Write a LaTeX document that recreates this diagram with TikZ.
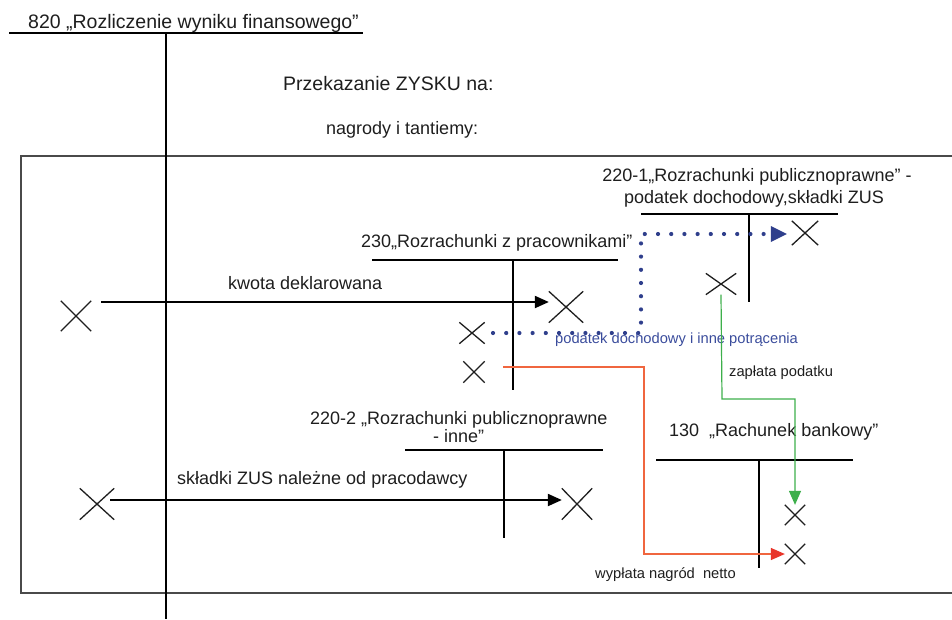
\documentclass[tikz,border=0pt]{standalone}
\usepackage{fontspec}
\setmainfont{Liberation Sans}
\usetikzlibrary{arrows.meta,shapes.misc,calc}
\definecolor{dotblue}{HTML}{2F3F8C}
\definecolor{txtblue}{HTML}{3A4C9C}
\definecolor{grn}{HTML}{3DAF4B}
\definecolor{redline}{HTML}{F0663F}
\definecolor{redhead}{HTML}{E8352A}
\definecolor{boxgray}{HTML}{4A4A4A}
\definecolor{ink}{HTML}{1E1E1E}
\begin{document}
\begin{tikzpicture}[x=1pt,y=-1pt,
  acct/.style={line width=2pt, draw=black},
  xmark/.style={cross out, draw=ink, inner sep=0pt, line width=1.3pt},
  bigtxt/.style={inner sep=0pt, font=\fontsize{19.5}{23}\selectfont, text=ink},
  lbl/.style={inner sep=0pt, font=\fontsize{18}{22}\selectfont, text=ink},
  small/.style={inner sep=0pt, font=\fontsize{14.7}{18}\selectfont, text=ink},
  blk/.style={line width=2pt, draw=black, -{Triangle[length=14pt,width=12pt]}}
]
\useasboundingbox (0,0) rectangle (952,619);
% frame
\draw[boxgray, line width=1.2pt] (952,156) -- (21,156) -- (21,593) -- (952,593);
% 820 account
\coordinate (t820l) at (9,33);
\coordinate (t820r) at (363,33);
\coordinate (t820m) at (165.5,33);
\coordinate (t820b) at (165.5,619);
\draw[acct] (t820l) -- (t820r);
\draw[acct] (t820m) -- (t820b);
\node[bigtxt, anchor=base west] (title) at (28,28) {820 „Rozliczenie wyniku finansowego”};
\node[bigtxt, anchor=base west] (przek) at (283,90) {Przekazanie ZYSKU na:};
\node[lbl, anchor=base west] (nagr) at (326,134) {nagrody i tantiemy:};

% 230 account
\coordinate (t230l) at (372,260);
\coordinate (t230r) at (618,260);
\coordinate (t230m) at (513,260);
\coordinate (t230b) at (513,390);
\draw[acct] (t230l) -- (t230r);
\draw[acct, line width=1.8pt] (t230m) -- (t230b);
\node[lbl, anchor=base west] (n230) at (361,247) {230„Rozrachunki z pracownikami”};

% 220-1 account
\coordinate (t2201l) at (641,214);
\coordinate (t2201r) at (838,214);
\coordinate (t2201m) at (749,214);
\coordinate (t2201b) at (749,302);
\draw[acct] (t2201l) -- (t2201r);
\draw[acct, line width=1.8pt] (t2201m) -- (t2201b);
\node[lbl, anchor=base] (n2201a) at (757,181) {220-1„Rozrachunki publicznoprawne” -};
\node[lbl, anchor=base] (n2201b) at (754,203) {podatek dochodowy,składki ZUS};

% 220-2 account
\coordinate (t2202l) at (405,450);
\coordinate (t2202r) at (603,450);
\coordinate (t2202m) at (504,450);
\coordinate (t2202b) at (504,538);
\draw[acct] (t2202l) -- (t2202r);
\draw[acct, line width=1.8pt] (t2202m) -- (t2202b);
\node[lbl, anchor=base west] (n2202a) at (310,424) {220-2 „Rozrachunki publicznoprawne};
\node[lbl, anchor=base west] (n2202b) at (433,442) {- inne”};

% 130 account
\coordinate (t130l) at (656,460);
\coordinate (t130r) at (853,460);
\coordinate (t130m) at (759,460);
\coordinate (t130b) at (759,568);
\draw[acct] (t130l) -- (t130r);
\draw[acct, line width=1.8pt] (t130m) -- (t130b);
\node[lbl, anchor=base west] (n130) at (669,436) {130\ \ „Rachunek bankowy”};

% X marks
\node[xmark, minimum width=29pt, minimum height=29pt] (x1) at (76,316) {};
\node[xmark, minimum width=33pt, minimum height=30pt] (x2) at (566,307) {};
\node[xmark, minimum width=24pt, minimum height=20pt] (x3) at (472,333) {};
\node[xmark, minimum width=20pt, minimum height=20pt] (x4) at (474,372) {};
\node[xmark, minimum width=25pt, minimum height=23pt] (x5) at (805,233) {};
\node[xmark, minimum width=29pt, minimum height=20pt] (x6) at (721,284) {};
\node[xmark, minimum width=19pt, minimum height=19pt] (x7) at (795,515) {};
\node[xmark, minimum width=19pt, minimum height=19pt] (x8) at (795,554) {};
\node[xmark, minimum width=33pt, minimum height=30pt] (x9) at (97,504) {};
\node[xmark, minimum width=29pt, minimum height=30pt] (x10) at (577,504) {};

% kwota deklarowana
\coordinate (k1) at (101,302);
\draw[blk] (k1) -- (x2.west |- k1);
\node[lbl, anchor=base west] (kwota) at (228,289) {kwota deklarowana};

% skladki ZUS
\coordinate (s1) at (110,500);
\draw[blk] (s1) -- (x10.west |- s1);
\node[lbl, anchor=base west] (skl) at (177,484) {składki ZUS należne od pracodawcy};

% blue dotted
\coordinate (b1) at (493,333);
\coordinate (b2) at (641,333);
\coordinate (b3) at (641,234);
\draw[dotblue, line width=4.2pt, line cap=round, dash pattern=on 0pt off 13.2pt]
  (b1) -- (b2) -- (b3) -- ($(x5.west |- b3)+(-6,0)$);
\fill[dotblue] ($(x5.west |- b3)+(-5,0)$) -- ++(-16,-8) -- ++(0,16) -- cycle;
\node[small, text=txtblue, anchor=base west] (pod) at (555,343) {podatek dochodowy i inne potrącenia};

% green
\coordinate (g1) at (722,399);
\draw[grn, line width=1.2pt, -{Triangle[length=14pt,width=12pt]}]
  (x6.south) -- (g1) -| (x7.north);
\node[small, anchor=base west] (zap) at (729,376) {zapłata podatku};

% red
\coordinate (r1) at (503,367);
\coordinate (r2) at (644,367);
\draw[redline, line width=1.3pt, -{Triangle[length=14pt,width=12pt,color=redhead]}]
  (r1) -- (r2) |- (x8.west);
\node[small, anchor=base west] (wyp) at (595,578) {wypłata nagród\ \ netto};
\end{tikzpicture}
\end{document}
